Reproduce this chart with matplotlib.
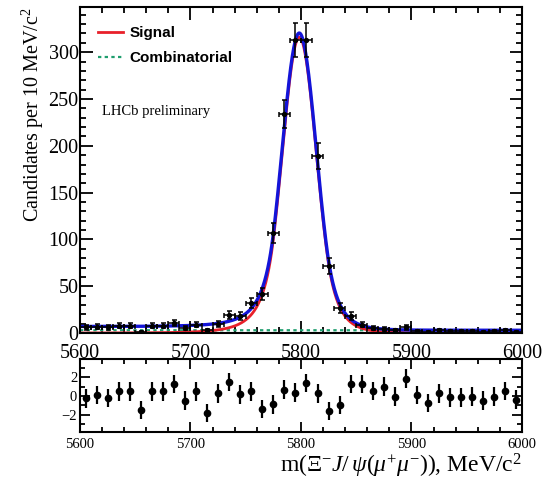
import matplotlib

matplotlib.use("Agg")
import matplotlib.pyplot as plt
import numpy as np
from matplotlib.ticker import MultipleLocator

plt.rcParams["mathtext.fontset"] = "custom"
plt.rcParams["mathtext.rm"] = "Liberation Serif"
plt.rcParams["mathtext.it"] = "Liberation Serif:italic"
plt.rcParams["mathtext.bf"] = "Liberation Serif:bold"

# binned candidates, 10 MeV bins from 5600 to 6000
bin_centres = np.arange(5605, 6000, 10)
counts = [6, 7, 6, 8, 8, 1, 8, 8, 11, 5,
          9, 3, 10, 19, 18, 32, 42, 107, 234, 313,
          313, 189, 72, 27, 18, 9, 5, 4, 3, 6,
          2, 1, 3, 2, 2, 2, 1, 2, 3, 1]
pulls = [-0.25, 0.1, -0.2, 0.5, 0.5, -1.5, 0.5, 0.5, 1.3, -0.5,
         0.5, -1.8, 0.3, 1.5, 0.2, 0.5, -1.4, -0.9, 0.7, 0.35,
         1.4, 0.3, -1.6, -0.95, 1.3, 1.3, 0.55, 1.0, -0.05, 1.85,
         0.1, -0.75, 0.3, -0.15, -0.15, -0.05, -0.5, -0.05, 0.55, -0.4]

# fit result
sig_mean = 5798.5
sig_width = 15.5
sig_peak = 316.0
alpha_l, n_l = 1.5, 5.0
alpha_r, n_r = 1.6, 10.0
comb_level = 3.0
low_bkg_level = 4.0
low_bkg_edge = 5790.0
low_bkg_soft = 15.0


def double_cb(m):
    t = (m - sig_mean) / sig_width
    out = np.exp(-0.5 * t**2)
    a_l = (n_l / alpha_l) ** n_l * np.exp(-0.5 * alpha_l**2)
    b_l = n_l / alpha_l - alpha_l
    a_r = (n_r / alpha_r) ** n_r * np.exp(-0.5 * alpha_r**2)
    b_r = n_r / alpha_r - alpha_r
    left = t < -alpha_l
    right = t > alpha_r
    out[left] = a_l * (b_l - t[left]) ** (-n_l)
    out[right] = a_r * (b_r + t[right]) ** (-n_r)
    return sig_peak * out


m = np.linspace(5600, 6000, 1601)
signal = double_cb(m)
comb = np.full_like(m, comb_level)
low_bkg = low_bkg_level / (1 + np.exp((m - low_bkg_edge) / low_bkg_soft))
total = signal + comb + low_bkg

serif = "Liberation Serif"
fig = plt.figure(figsize=(5.49, 4.82), dpi=100)
ax = fig.add_axes([0.1457, 0.309, 0.805, 0.676])
axp = fig.add_axes([0.1457, 0.1037, 0.805, 0.151])

# main fit
ax.plot(m, comb, ls=(0, (1.5, 1.5)), color="#1f9e6e", lw=1.6, label="Combinatorial")
ax.plot(m, signal, color="#e8202a", lw=2.0, label="Signal")
ax.plot(m, total, color="#1414d8", lw=2.4)
ax.errorbar(bin_centres, counts, xerr=5, yerr=np.sqrt(counts), fmt="o", ms=2.8,
            color="black", ecolor="black", elinewidth=1.1, capsize=1.8, capthick=1.1)

ax.set_xlim(5600, 6000)
ax.set_ylim(0, 348)
ax.yaxis.set_major_locator(MultipleLocator(50))
ax.yaxis.set_minor_locator(MultipleLocator(10))
ax.xaxis.set_major_locator(MultipleLocator(100))
ax.xaxis.set_minor_locator(MultipleLocator(20))
ax.tick_params(which="both", direction="in", top=True, right=True, width=1.3)
ax.tick_params(which="major", length=9, labelsize=14.5, pad=1)
ax.tick_params(axis="x", which="major", pad=8)
ax.tick_params(which="minor", length=4.5)
for lab in ax.get_xticklabels() + ax.get_yticklabels():
    lab.set_fontfamily(serif)
ax.set_ylabel("Candidates per 10 MeV/c$^2$", family=serif, fontsize=14.5,
              loc="top", labelpad=2)

h, l = ax.get_legend_handles_labels()
ax.legend(h[::-1], l[::-1], loc="upper left", bbox_to_anchor=(0.01, 0.985),
          frameon=False, handlelength=1.6, handletextpad=0.45, labelspacing=0.75,
          prop={"family": "Liberation Sans", "weight": "bold", "size": 11})
ax.text(0.05, 0.68, "LHCb preliminary", transform=ax.transAxes, family=serif,
        fontsize=10.5, va="center")

# pull panel
axp.errorbar(bin_centres, pulls, yerr=1.0, fmt="o", ms=4.5, color="black",
             ecolor="black", elinewidth=1.6, capsize=0)
axp.set_xlim(5600, 6000)
axp.set_ylim(-3.85, 3.95)
axp.yaxis.set_major_locator(MultipleLocator(2))
axp.yaxis.set_minor_locator(MultipleLocator(1))
axp.xaxis.set_major_locator(MultipleLocator(100))
axp.xaxis.set_minor_locator(MultipleLocator(20))
axp.tick_params(which="both", direction="in", top=True, right=True, width=1.3)
axp.tick_params(which="major", length=7, labelsize=10.5, pad=2)
axp.tick_params(axis="x", which="major", pad=4)
axp.tick_params(which="minor", length=3.5)
for lab in axp.get_xticklabels() + axp.get_yticklabels():
    lab.set_fontfamily(serif)
axp.set_xlabel(r"m($\mathit{\Xi}^{-}J/\,\psi(\mu^{+}\mu^{-})$), MeV/c$^2$",
               family=serif, fontsize=17, loc="right", labelpad=1)

for a in (ax, axp):
    for s in a.spines.values():
        s.set_linewidth(1.5)

fig.savefig("out.png", dpi=100)
